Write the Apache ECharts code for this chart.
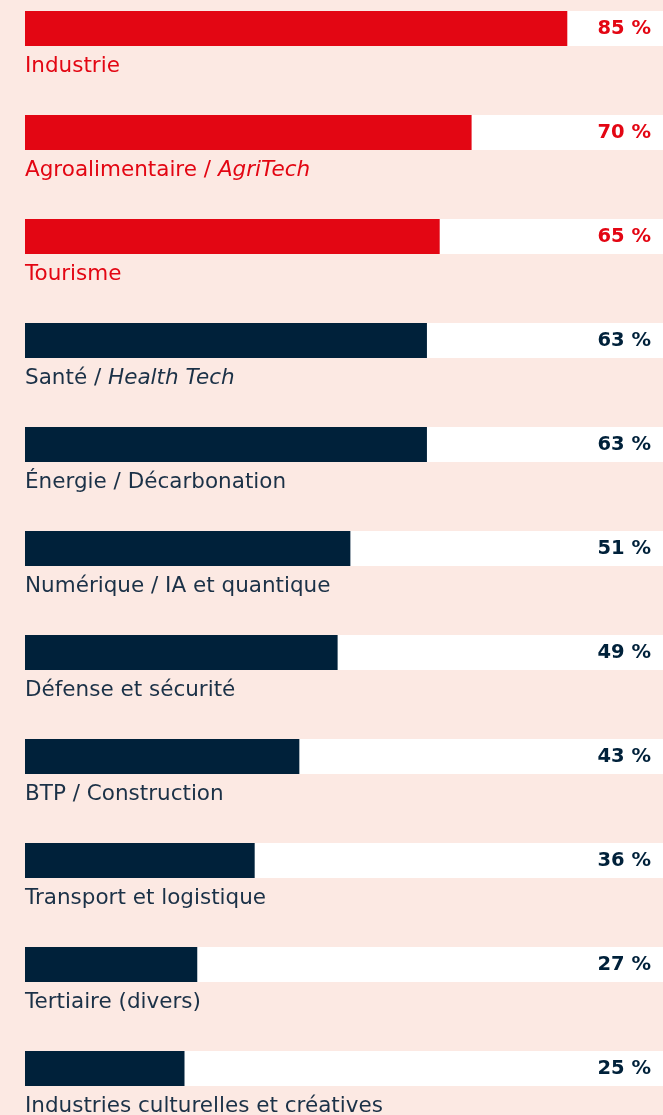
<!DOCTYPE html>
<html><head><meta charset="utf-8">
<script src="https://cdn.jsdelivr.net/npm/echarts@6/dist/echarts.min.js"></script>
<style>html,body{margin:0;padding:0;background:#fce9e3;}#c{width:663px;height:1115px;}</style>
</head><body><div id="c"></div>
<script>
const categories = ['Industrie','Agroalimentaire / ','Tourisme','Santé / ','Énergie / Décarbonation','Numérique / IA et quantique','Défense et sécurité','BTP / Construction','Transport et logistique','Tertiaire (divers)','Industries culturelles et créatives'];
const italicParts = ['','AgriTech','','Health Tech','','','','','','',''];
const values = [85,70,65,63,63,51,49,43,36,27,25];
const highlighted = [true,true,true,false,false,false,false,false,false,false,false];

const RED = '#e30613', NAVY = '#00213a', TEXT = '#1b3147';
const FONT = 'DejaVu Sans';
const FS = 21.5;
const chart = echarts.init(document.getElementById('c'), null, {renderer:'canvas'});
const barData = values.map((v,i)=>{
  const col = highlighted[i] ? RED : NAVY;
  const tcol = highlighted[i] ? RED : TEXT;
  return {
    value: v,
    itemStyle: {color: col},
    label: {
      rich: {
        n: {color: tcol, fontSize: FS, fontFamily: FONT},
        it: {color: tcol, fontSize: FS, fontFamily: FONT, fontStyle: 'italic'}
      }
    }
  };
});
const valData = values.map((v,i)=>({
  value: [100, i],
  label: {color: highlighted[i] ? RED : NAVY}
}));
chart.setOption({
  backgroundColor: '#fce9e3',
  animation: false,
  grid: {left: 25, top: 28.5, width: 640, height: 1040, containLabel: false},
  xAxis: {type: 'value', min: 0, max: 100, show: false},
  yAxis: {type: 'category', data: categories, inverse: true, show: false, boundaryGap: false},
  series: [{
    type: 'bar',
    data: barData,
    barWidth: 35,
    showBackground: true,
    backgroundStyle: {color: '#ffffff'},
    label: {
      show: true,
      position: [0, 44],
      formatter: p => '{n|' + categories[p.dataIndex] + '}' + (italicParts[p.dataIndex] ? '{it|' + italicParts[p.dataIndex] + '}' : '')
    }
  },{
    type: 'scatter',
    data: valData,
    symbolSize: 0,
    itemStyle: {opacity: 1},
    label: {
      show: true,
      position: 'left',
      distance: 12,
      opacity: 1,
      fontSize: 19.5,
      fontWeight: 'bold',
      fontFamily: FONT,
      formatter: p => values[p.dataIndex] + ' %'
    }
  }]
});
</script></body></html>
